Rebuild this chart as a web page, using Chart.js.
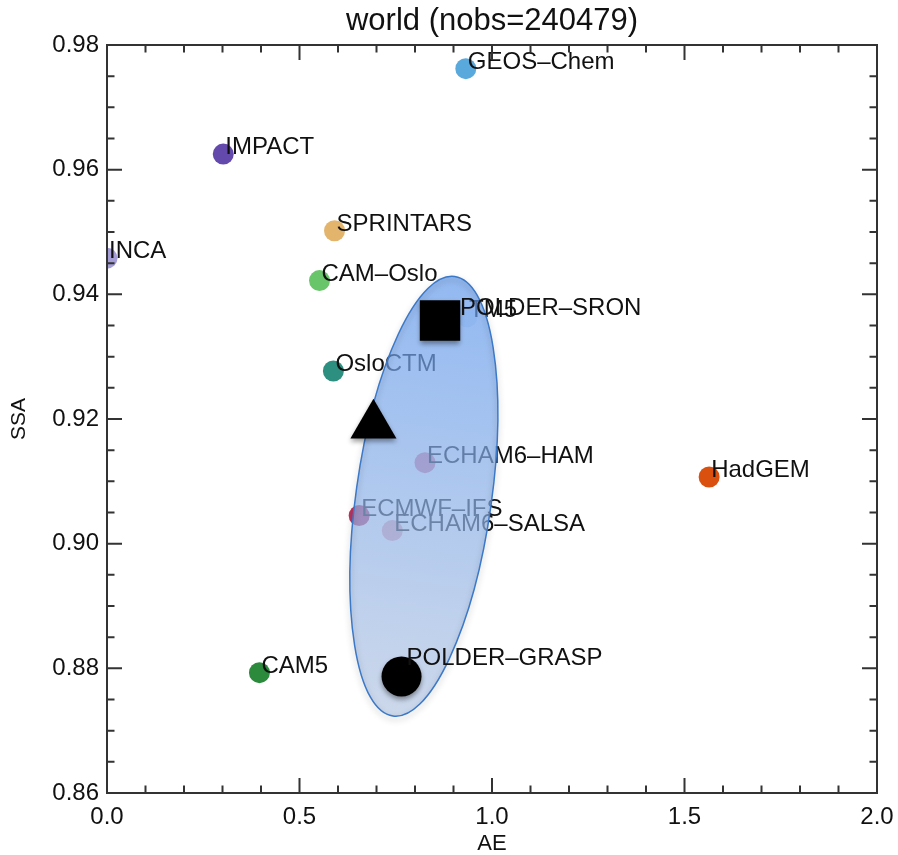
<!DOCTYPE html>
<html>
<head>
<meta charset="utf-8">
<title>world SSA vs AE</title>
<script src="https://cdn.jsdelivr.net/npm/chart.js@4.4.1/dist/chart.umd.min.js"></script>
<style>
    html, body { margin: 0; padding: 0; background: #fff; }
</style>
</head>
<body>
<canvas id="ssaChart" width="898" height="855"></canvas>
<script>
// model means (AE, SSA)
const modelNames = ["GEOS–Chem", "IMPACT", "SPRINTARS", "INCA", "CAM–Oslo", "TM5", "OsloCTM",
    "ECHAM6–HAM", "HadGEM", "ECMWF–IFS", "ECHAM6–SALSA", "CAM5"];
const modelAE = [0.932, 0.302, 0.591, 0.0, 0.552, 0.935, 0.588, 0.826, 1.564, 0.655, 0.741, 0.396];
const modelSSA = [0.9762, 0.9625, 0.9502, 0.9458, 0.9422, 0.9364, 0.9277, 0.9130, 0.9107, 0.9045, 0.9021, 0.8793];
const modelColors = ["#5aa9dc", "#6449ad", "#e3b56c", "#a59ed6", "#68c56a", "#e4edf9", "#2c8f80",
    "#e07f98", "#d9500f", "#b9335f", "#eaa3ad", "#2b8a3c"];

// retrievals: square, triangle, circle
const obsNames = ["POLDER–SRON", null, "POLDER–GRASP"];
const obsAE = [0.865, 0.692, 0.765];
const obsSSA = [0.9358, 0.9190, 0.8787];

// spread of the models: centre, half axes (AE across, SSA along), tilt in degrees
const spreadCenter = [0.823, 0.9076];
const spreadHalfAxes = [0.176, 0.0356];
const spreadTilt = 8;

const xTicks = [0, 0.5, 1.0, 1.5, 2.0];
const yTicks = [0.86, 0.88, 0.90, 0.92, 0.94, 0.96, 0.98];

const family = '"Liberation Sans", Arial, Helvetica, sans-serif';

function drawSpread(chart) {
    const { ctx, scales: { x, y } } = chart;
    const cx = x.getPixelForValue(spreadCenter[0]);
    const cy = y.getPixelForValue(spreadCenter[1]);
    const rx = x.getPixelForValue(spreadCenter[0] + spreadHalfAxes[0]) - cx;
    const ry = cy - y.getPixelForValue(spreadCenter[1] + spreadHalfAxes[1]);

    ctx.save();
    ctx.translate(cx, cy);
    ctx.rotate(spreadTilt * Math.PI / 180);
    const grad = ctx.createLinearGradient(0, -ry, 0, ry);
    grad.addColorStop(0, 'rgba(100,155,236,0.7)');
    grad.addColorStop(1, 'rgba(182,199,226,0.7)');
    ctx.beginPath();
    ctx.ellipse(0, 0, rx, ry, 0, 0, Math.PI * 2);
    ctx.fillStyle = grad;
    ctx.fill();
    ctx.shadowColor = 'rgba(0,0,0,0.3)';
    ctx.shadowBlur = 6;
    ctx.shadowOffsetY = 3;
    ctx.strokeStyle = '#3b78c8';
    ctx.lineWidth = 1.5;
    ctx.stroke();
    ctx.restore();
}

function drawLabels(chart, index, names, dx, dy) {
    const { ctx } = chart;
    const meta = chart.getDatasetMeta(index);
    ctx.save();
    ctx.font = '24px ' + family;
    ctx.fillStyle = '#111';
    ctx.textAlign = 'left';
    ctx.textBaseline = 'alphabetic';
    meta.data.forEach((pt, i) => {
        if (!names[i]) return;
        ctx.fillText(names[i], pt.x + dx[i], pt.y + dy[i]);
    });
    ctx.restore();
}

const annotate = {
    id: 'annotate',
    beforeDatasetDraw(chart, args) {
        if (args.index === 1) {
            const ctx = chart.ctx;
            ctx.save();
            ctx.shadowColor = 'rgba(0,0,0,0.4)';
            ctx.shadowBlur = 5;
            ctx.shadowOffsetY = 3;
        }
    },
    afterDatasetDraw(chart, args) {
        if (args.index === 0) {
            drawLabels(chart, 0, modelNames, modelNames.map(() => 2), modelNames.map(() => 0));
            drawSpread(chart);
        } else if (args.index === 1) {
            chart.ctx.restore();
            drawLabels(chart, 1, obsNames, [20, 0, 5], [-6, 0, -11]);
        }
    }
};

// IDL style box with inward ticks on all four sides
const frameTicks = {
    id: 'frameTicks',
    afterDraw(chart) {
        const { ctx, chartArea: a, scales: { x, y } } = chart;
        ctx.save();
        ctx.strokeStyle = '#333';
        ctx.lineWidth = 2;
        ctx.strokeRect(a.left, a.top, a.right - a.left, a.bottom - a.top);
        ctx.beginPath();
        for (let i = 0; i <= 20; i++) {
            const px = x.getPixelForValue(i / 10);
            const len = i % 5 === 0 ? 15 : 7.5;
            ctx.moveTo(px, a.bottom); ctx.lineTo(px, a.bottom - len);
            ctx.moveTo(px, a.top); ctx.lineTo(px, a.top + len);
        }
        for (let i = 0; i <= 24; i++) {
            const py = y.getPixelForValue(0.86 + i * 0.005);
            const len = i % 4 === 0 ? 15 : 7.5;
            ctx.moveTo(a.left, py); ctx.lineTo(a.left + len, py);
            ctx.moveTo(a.right, py); ctx.lineTo(a.right - len, py);
        }
        ctx.stroke();
        ctx.restore();
    }
};

const ctx = document.getElementById('ssaChart').getContext('2d');
const ssaChart = new Chart(ctx, {
    type: 'scatter',
    data: {
        datasets: [{
            label: 'models',
            data: modelAE.map((v, i) => ({ x: v, y: modelSSA[i] })),
            pointRadius: 10.5,
            pointBorderWidth: 0,
            pointBackgroundColor: modelColors,
            clip: 0,
            order: 2
        }, {
            label: 'retrievals',
            data: obsAE.map((v, i) => ({ x: v, y: obsSSA[i] })),
            pointStyle: ['rect', 'triangle', 'circle'],
            pointRadius: [28.6, 26.6, 20],
            pointBorderWidth: 0,
            pointBackgroundColor: '#000',
            clip: false,
            order: 1
        }]
    },
    options: {
        responsive: false,
        animation: false,
        events: [],
        layout: { autoPadding: false, padding: { left: 0, right: 21, top: 0, bottom: 0 } },
        plugins: {
            legend: { display: false },
            tooltip: { enabled: false },
            title: {
                display: true,
                text: 'world (nobs=240479)',
                fullSize: false,
                color: '#111',
                font: { family: family, size: 31, weight: 'normal', lineHeight: 1.2 },
                padding: { top: 3, bottom: 4.8 }
            }
        },
        scales: {
            x: {
                type: 'linear',
                min: 0,
                max: 2,
                grid: { display: false, drawTicks: false },
                border: { display: false },
                afterBuildTicks: s => { s.ticks = xTicks.map(v => ({ value: v })); },
                ticks: {
                    padding: 10,
                    color: '#111',
                    font: { family: family, size: 24 },
                    callback: v => Number(v).toFixed(1)
                },
                title: {
                    display: true,
                    text: 'AE',
                    color: '#111',
                    font: { family: family, size: 22, lineHeight: 1 },
                    padding: { top: 0, bottom: 0 }
                },
                afterFit: s => {
                    s.height = 62;
                    s.paddingLeft = 0;
                    s.paddingRight = 0;
                }
            },
            y: {
                type: 'linear',
                min: 0.86,
                max: 0.98,
                grid: { display: false, drawTicks: false },
                border: { display: false },
                afterBuildTicks: s => { s.ticks = yTicks.map(v => ({ value: v })); },
                ticks: {
                    padding: 8,
                    color: '#111',
                    font: { family: family, size: 24 },
                    callback: v => Number(v).toFixed(2)
                },
                title: {
                    display: true,
                    text: 'SSA',
                    color: '#111',
                    font: { family: family, size: 21, lineHeight: 1 },
                    padding: { top: 9, bottom: 0 }
                },
                afterFit: s => { s.width = 107; }
            }
        }
    },
    plugins: [annotate, frameTicks]
});
</script>
</body>
</html>
